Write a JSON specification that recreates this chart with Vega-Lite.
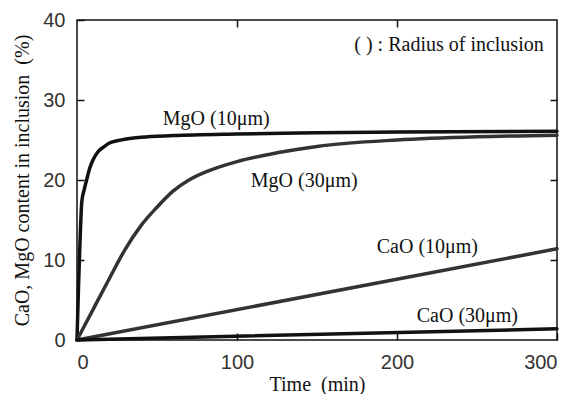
{
  "$schema": "https://vega.github.io/schema/vega-lite/v6.json",
  "autosize": "none",
  "width": 480,
  "height": 320,
  "padding": {"left": 77, "top": 20, "right": 20, "bottom": 54},
  "background": "white",
  "config": {
    "view": {"stroke": "#111", "strokeWidth": 1.5},
    "axis": {"grid": false, "domain": false, "tickColor": "#111", "tickWidth": 1.5, "tickSize": -7,
      "labelFont": "Liberation Sans", "labelFontSize": 20, "labelColor": "#333",
      "titleFont": "Liberation Serif", "titleFontSize": 20, "titleFontWeight": "normal", "titleColor": "#111"}
  },
  "datasets": {
    "curves": [
      {"series": "MgO10", "time": 0, "value": 0},
      {"series": "MgO10", "time": 1, "value": 7},
      {"series": "MgO10", "time": 2, "value": 13},
      {"series": "MgO10", "time": 3, "value": 17.3},
      {"series": "MgO10", "time": 4.5, "value": 18.8},
      {"series": "MgO10", "time": 6, "value": 20},
      {"series": "MgO10", "time": 8, "value": 21.5},
      {"series": "MgO10", "time": 10, "value": 22.5},
      {"series": "MgO10", "time": 13, "value": 23.5},
      {"series": "MgO10", "time": 16.5, "value": 24.1},
      {"series": "MgO10", "time": 20, "value": 24.6},
      {"series": "MgO10", "time": 25, "value": 24.9},
      {"series": "MgO10", "time": 30, "value": 25.1},
      {"series": "MgO10", "time": 40, "value": 25.35},
      {"series": "MgO10", "time": 60, "value": 25.55},
      {"series": "MgO10", "time": 100, "value": 25.75},
      {"series": "MgO10", "time": 150, "value": 25.9},
      {"series": "MgO10", "time": 200, "value": 26.0},
      {"series": "MgO10", "time": 300, "value": 26.1},
      {"series": "MgO30", "time": 0, "value": 0},
      {"series": "MgO30", "time": 10, "value": 3.8},
      {"series": "MgO30", "time": 20, "value": 7.6},
      {"series": "MgO30", "time": 30, "value": 11.3},
      {"series": "MgO30", "time": 40, "value": 14.3},
      {"series": "MgO30", "time": 50, "value": 16.6},
      {"series": "MgO30", "time": 60, "value": 18.6},
      {"series": "MgO30", "time": 70, "value": 20.0},
      {"series": "MgO30", "time": 83, "value": 21.2},
      {"series": "MgO30", "time": 100, "value": 22.3},
      {"series": "MgO30", "time": 125, "value": 23.4},
      {"series": "MgO30", "time": 150, "value": 24.2},
      {"series": "MgO30", "time": 200, "value": 25.0},
      {"series": "MgO30", "time": 250, "value": 25.4},
      {"series": "MgO30", "time": 300, "value": 25.6},
      {"series": "CaO10", "time": 0, "value": 0},
      {"series": "CaO10", "time": 300, "value": 11.4},
      {"series": "CaO30", "time": 0, "value": 0},
      {"series": "CaO30", "time": 300, "value": 1.4}
    ],
    "labels": [
      {"label": "MgO (10μm)", "time": 87, "value": 27.6},
      {"label": "MgO (30μm)", "time": 142, "value": 19.9},
      {"label": "CaO (10μm)", "time": 219, "value": 11.6},
      {"label": "CaO (30μm)", "time": 244, "value": 3.0},
      {"label": "( ) : Radius of inclusion", "time": 232.5, "value": 36.9}
    ]
  },
  "resolve": {"axis": {"x": "independent", "y": "independent"}},
  "layer": [
    {
      "data": {"name": "curves"},
      "mark": {"type": "line", "strokeWidth": 3.5, "interpolate": "monotone", "strokeCap": "round"},
      "encoding": {
        "x": {"field": "time", "type": "quantitative", "scale": {"domain": [0, 300], "nice": false},
          "axis": {"values": [0, 100, 200, 300], "title": "Time\u00a0\u00a0(min)", "labelPadding": 19, "titlePadding": 2}},
        "y": {"field": "value", "type": "quantitative", "scale": {"domain": [0, 40], "nice": false},
          "axis": {"values": [0, 10, 20, 30, 40], "title": "CaO, MgO content in inclusion\u00a0\u00a0(%)", "labelPadding": 19, "titlePadding": 10}},
        "detail": {"field": "series"},
        "color": {"field": "series", "type": "nominal",
          "scale": {"domain": ["MgO10", "MgO30", "CaO10", "CaO30"], "range": ["#111111", "#333333", "#333333", "#111111"]},
          "legend": null}
      }
    },
    {
      "data": {"name": "curves"},
      "mark": {"type": "point", "opacity": 0},
      "encoding": {
        "x": {"field": "time", "type": "quantitative", "axis": {"orient": "top", "values": [100, 200], "labels": false, "title": null}},
        "y": {"field": "value", "type": "quantitative", "axis": {"orient": "right", "values": [10, 20, 30], "labels": false, "title": null}}
      }
    },
    {
      "data": {"name": "labels"},
      "mark": {"type": "text", "font": "Liberation Serif", "fontSize": 20, "color": "#111", "baseline": "middle", "align": "center"},
      "encoding": {
        "x": {"field": "time", "type": "quantitative", "axis": null},
        "y": {"field": "value", "type": "quantitative", "axis": null},
        "text": {"field": "label", "type": "nominal"}
      }
    }
  ]
}
